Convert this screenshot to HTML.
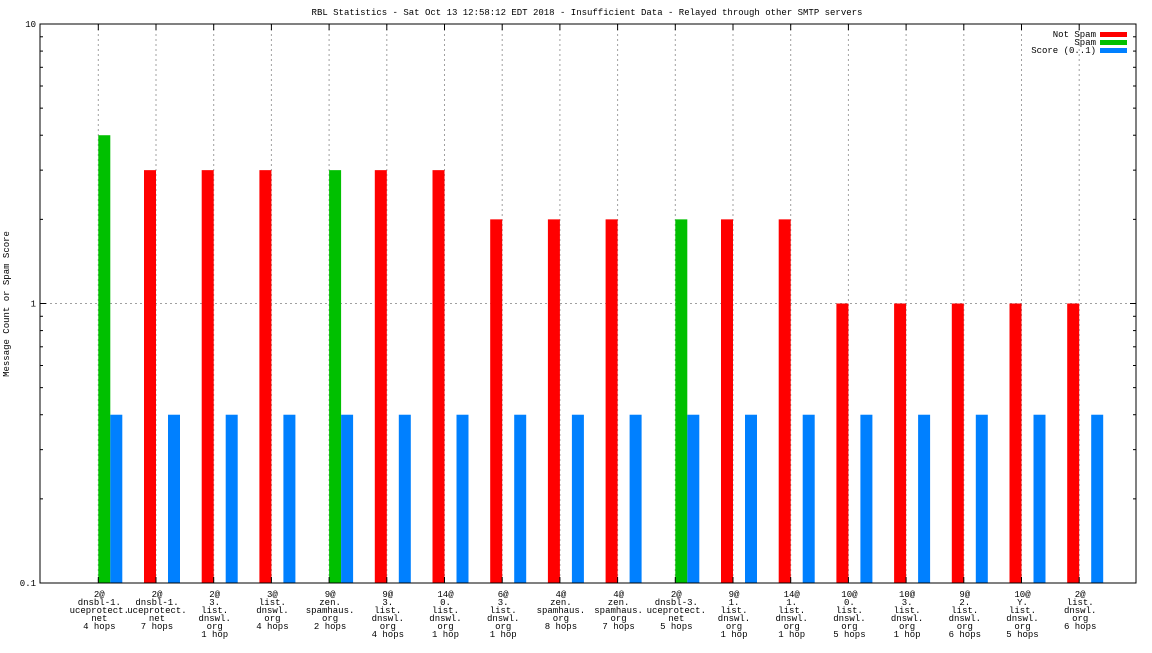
<!DOCTYPE html>
<html><head><meta charset="utf-8"><style>
body{margin:0;background:#fff}
svg text{font-family:"Liberation Mono","DejaVu Sans Mono",monospace;font-size:9px;fill:#000}
</style></head><body>
<svg id="chart" width="1152" height="648" xmlns="http://www.w3.org/2000/svg">
<text x="587" y="15" text-anchor="middle">RBL Statistics - Sat Oct 13 12:58:12 EDT 2018 - Insufficient Data - Relayed through other SMTP servers</text>
<text transform="translate(9,304) rotate(-90)" text-anchor="middle">Message Count or Spam Score</text>
<g id="grid"></g><g id="bars"></g><g id="axes"></g><g id="labels"></g>
<g>
<text x="1096" y="37" text-anchor="end">Not Spam</text><rect x="1100" y="32" width="27" height="5" fill="#ff0000"/>
<text x="1096" y="45" text-anchor="end">Spam</text><rect x="1100" y="40" width="27" height="5" fill="#00c000"/>
<text x="1096" y="53" text-anchor="end">Score (0..1)</text><rect x="1100" y="48" width="27" height="5" fill="#0080ff"/>
</g>
</svg>
<script>
const categories=[["2@","dnsbl-1.","uceprotect.","net","4 hops"],["2@","dnsbl-1.","uceprotect.","net","7 hops"],["2@","3.","list.","dnswl.","org","1 hop"],["3@","list.","dnswl.","org","4 hops"],["9@","zen.","spamhaus.","org","2 hops"],["9@","3.","list.","dnswl.","org","4 hops"],["14@","0.","list.","dnswl.","org","1 hop"],["6@","3.","list.","dnswl.","org","1 hop"],["4@","zen.","spamhaus.","org","8 hops"],["4@","zen.","spamhaus.","org","7 hops"],["2@","dnsbl-3.","uceprotect.","net","5 hops"],["9@","1.","list.","dnswl.","org","1 hop"],["14@","1.","list.","dnswl.","org","1 hop"],["10@","0.","list.","dnswl.","org","5 hops"],["10@","3.","list.","dnswl.","org","1 hop"],["9@","2.","list.","dnswl.","org","6 hops"],["10@","Y.","list.","dnswl.","org","5 hops"],["2@","list.","dnswl.","org","6 hops"]];
const notSpam=[0,3,3,3,0,3,3,2,2,2,0,2,2,1,1,1,1,1];
const spam=[4,0,0,0,3,0,0,0,0,0,2,0,0,0,0,0,0,0];
const score=[0.4,0.4,0.4,0.4,0.4,0.4,0.4,0.4,0.4,0.4,0.4,0.4,0.4,0.4,0.4,0.4,0.4,0.4];
const yTicks=[0.1,1,10];
const L=40,R=1136,T=24,B=583;
const ns="http://www.w3.org/2000/svg";
function y(v){return T+(1-Math.log10(v))*(B-T)/2;}
function x(i){return 98.3+i*57.7;}
function mk(p,t,a){const e=document.createElementNS(ns,t);for(const k in a)e.setAttribute(k,a[k]);document.getElementById(p).appendChild(e);return e;}
categories.forEach((c,i)=>{
 const g=mk('grid','line',{x1:x(i),x2:x(i),y1:T,y2:B,stroke:'#a0a0a0','stroke-dasharray':'2,3'});
 
 
 const t1=mk('axes','line',{x1:x(i),x2:x(i),y1:T,y2:T+6,stroke:'#000'});
 
 
 const t2=mk('axes','line',{x1:x(i),x2:x(i),y1:B,y2:B-6,stroke:'#000'});
 
 
 c.forEach((s,j)=>{const t=mk('labels','text',{x:x(i)+1,y:597+j*8,'text-anchor':'middle'});t.textContent=s;
  
  });
 const series=[[notSpam[i],-12,'#ff0000','bar-not-spam'],[spam[i],0,'#00c000','bar-spam'],[score[i],12,'#0080ff','bar-score']];
 series.forEach(([v,o,col,nm])=>{if(v>0.1){const r=mk('bars','rect',{x:x(i)+o,y:y(v),width:12,height:B-y(v),fill:col});
  
  }});
});
yTicks.forEach(v=>{
 const t=mk('labels','text',{x:36,y:y(v)+3,'text-anchor':'end'});t.textContent=v;
 
 
 if(v>0.1&&v<10){const gl=mk('grid','line',{x1:L,x2:R,y1:y(v),y2:y(v),stroke:'#a0a0a0','stroke-dasharray':'2,3'});
  
  }
 [[L,L+6],[R,R-6]].forEach(([a,b])=>{const l=mk('axes','line',{x1:a,x2:b,y1:y(v),y2:y(v),stroke:'#000'});
  
  });
 if(v<10)for(let m=2;m<10;m++){const yy=y(v*m);[[L,L+3],[R,R-3]].forEach(([a,b])=>{const l=mk('axes','line',{x1:a,x2:b,y1:yy,y2:yy,stroke:'#000'});
  
  });}
});
const f=mk('axes','rect',{x:L,y:T,width:R-L,height:B-T,fill:'none',stroke:'#000'});


</script>
</body></html>
